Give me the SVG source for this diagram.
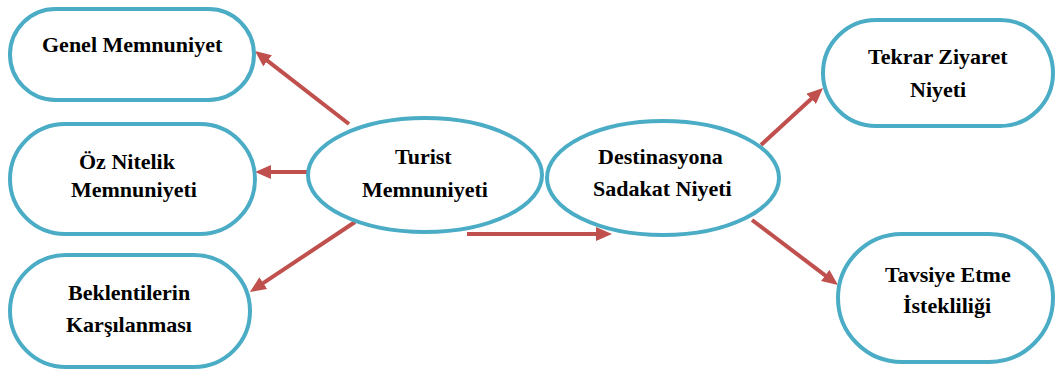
<svg xmlns="http://www.w3.org/2000/svg" width="1056" height="372" viewBox="0 0 1056 372">
  <style>
    .box { fill: #ffffff; stroke: #4BACC6; stroke-width: 4; }
    text.lbl { font-family: "Liberation Serif", "Times New Roman", serif !important; font-weight: bold; font-size: 22px; fill: #000000; }
    .link { stroke: #C0504D; stroke-width: 4; fill: none; marker-end: url(#head); }
  </style>
  <defs>
    <marker id="head" markerUnits="userSpaceOnUse" viewBox="0 0 16 14" refX="2" refY="7" markerWidth="16" markerHeight="14" orient="auto">
      <path d="M0,0 L16,7 L0,14 Z" fill="#C0504D"/>
    </marker>
  </defs>
  <rect width="1056" height="372" fill="#ffffff"/>

  <!-- arrows between the concepts -->
  <g id="connectors">
    <line class="link" x1="349" y1="124" x2="266" y2="59.6"/>
    <line class="link" x1="308" y1="172" x2="269" y2="172"/>
    <line class="link" x1="355" y1="222" x2="261.6" y2="284.2"/>
    <line class="link" x1="467" y1="234" x2="598" y2="234"/>
    <line class="link" x1="761" y1="145" x2="812.7" y2="97.5"/>
    <line class="link" x1="752" y1="220" x2="826.8" y2="276.6"/>
  </g>

  <g id="genel-memnuniyet">
    <rect class="box" x="10" y="9" width="244" height="91" rx="45.5"/>
    <text class="lbl" x="42" y="52">Genel Memnuniyet</text>
  </g>

  <g id="oz-nitelik">
    <rect class="box" x="10" y="124" width="245" height="110" rx="55"/>
    <text class="lbl" x="79" y="169">Öz Nitelik</text>
    <text class="lbl" x="71" y="197">Memnuniyeti</text>
  </g>

  <g id="beklentiler">
    <rect class="box" x="10" y="255" width="240" height="112" rx="56"/>
    <text class="lbl" x="68" y="300">Beklentilerin</text>
    <text class="lbl" x="66" y="332">Karşılanması</text>
  </g>

  <g id="turist-memnuniyeti">
    <ellipse class="box" cx="425" cy="175" rx="117" ry="57"/>
    <text class="lbl" x="395" y="164">Turist</text>
    <text class="lbl" x="362" y="197">Memnuniyeti</text>
  </g>

  <g id="sadakat-niyeti">
    <ellipse class="box" cx="663" cy="178" rx="116" ry="57"/>
    <text class="lbl" x="598" y="164">Destinasyona</text>
    <text class="lbl" x="593" y="196">Sadakat Niyeti</text>
  </g>

  <g id="tekrar-ziyaret">
    <rect class="box" x="823" y="20" width="230" height="106" rx="53"/>
    <text class="lbl" x="868" y="64">Tekrar Ziyaret</text>
    <text class="lbl" x="910" y="97">Niyeti</text>
  </g>

  <g id="tavsiye-etme">
    <rect class="box" x="838" y="234" width="215" height="128" rx="64"/>
    <text class="lbl" x="885" y="282">Tavsiye Etme</text>
    <text class="lbl" x="903" y="313">İstekliliği</text>
  </g>
</svg>
